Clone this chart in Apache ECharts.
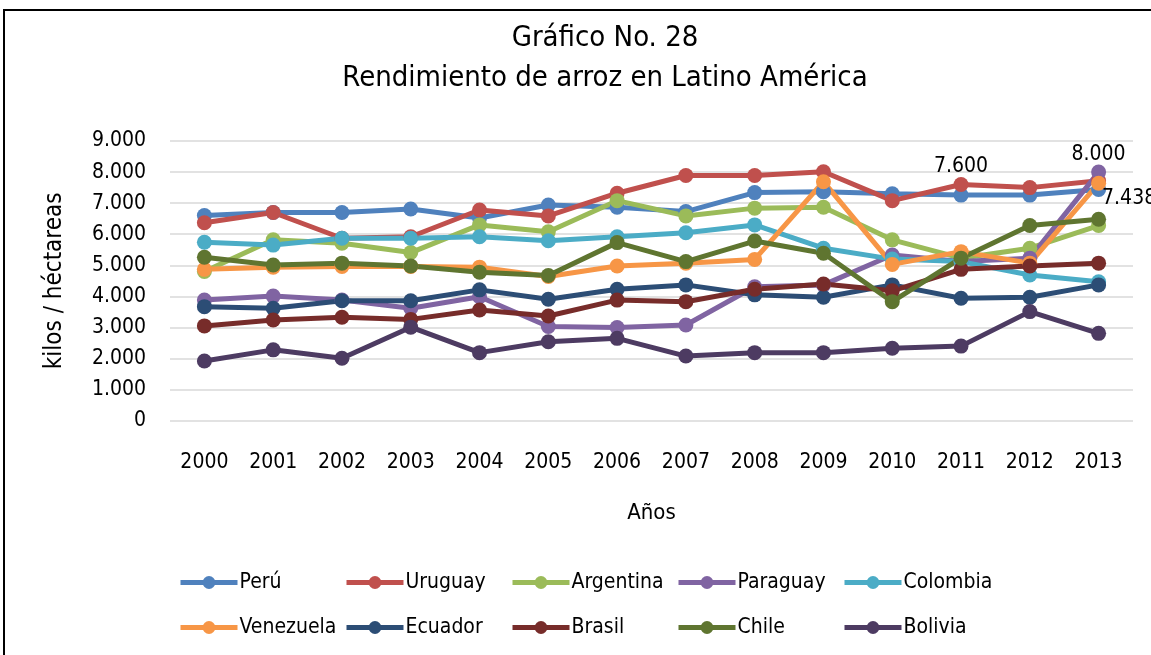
<!DOCTYPE html>
<html>
<head>
<meta charset="utf-8">
<script src="https://cdn.jsdelivr.net/npm/echarts@6/dist/echarts.min.js"></script>
<style>
  html, body { margin: 0; padding: 0; background: #fff; }
  #chart { width: 1151px; height: 655px; }
</style>
</head>
<body>
<div id="chart"></div>
<script>
  // años (categorías)
  var years = ['2000', '2001', '2002', '2003', '2004', '2005', '2006', '2007', '2008', '2009', '2010', '2011', '2012', '2013'];

  // rendimiento kg / ha por país
  var peru      = [6600, 6700, 6700, 6810, 6520, 6940, 6870, 6730, 7340, 7370, 7300, 7260, 7260, 7438];
  var uruguay   = [6370, 6700, 5870, 5920, 6780, 6590, 7320, 7890, 7890, 8010, 7080, 7600, 7500, 7720];
  var argentina = [4800, 5820, 5710, 5410, 6300, 6080, 7080, 6590, 6840, 6870, 5820, 5230, 5550, 6280];
  var paraguay  = [3880, 4010, 3880, 3620, 3990, 3030, 3000, 3080, 4310, 4370, 5330, 5120, 5230, 8000];
  var colombia  = [5740, 5650, 5870, 5870, 5920, 5790, 5920, 6050, 6300, 5550, 5200, 5120, 4690, 4470];
  var venezuela = [4870, 4940, 4960, 4960, 4940, 4640, 4980, 5070, 5190, 7690, 5030, 5440, 5070, 7640];
  var ecuador   = [3670, 3620, 3860, 3860, 4210, 3910, 4230, 4370, 4050, 3970, 4370, 3940, 3970, 4370];
  var brasil    = [3050, 3240, 3330, 3260, 3560, 3370, 3880, 3830, 4230, 4400, 4180, 4870, 4980, 5070];
  var chile     = [5260, 5010, 5070, 4980, 4780, 4670, 5730, 5120, 5780, 5390, 3830, 5230, 6280, 6480];
  var bolivia   = [1920, 2280, 2010, 3010, 2190, 2540, 2650, 2080, 2190, 2190, 2330, 2400, 3510, 2810];

  var yTicks = [0, 1000, 2000, 3000, 4000, 5000, 6000, 7000, 8000, 9000];

  var names  = ['Perú', 'Uruguay', 'Argentina', 'Paraguay', 'Colombia', 'Venezuela', 'Ecuador', 'Brasil', 'Chile', 'Bolivia'];
  var values = [peru, uruguay, argentina, paraguay, colombia, venezuela, ecuador, brasil, chile, bolivia];
  var colors = ['#4f81bd', '#c0504d', '#9bbb59', '#8064a2', '#4bacc6', '#f79646', '#2c4d75', '#772c2a', '#5f7530', '#4d3b62'];

  // puntos con etiqueta de dato
  var labelled = [
    { serie: 'Uruguay', idx: 11, pos: 'top' },
    { serie: 'Paraguay', idx: 13, pos: 'top' },
    { serie: 'Perú', idx: 13, pos: 'right' }
  ];

  var font = "'DejaVu Sans Condensed', sans-serif";

  function fmt(v) {
    return String(Math.round(v)).replace(/\B(?=(\d{3})+(?!\d))/g, '.');
  }

  var chart = echarts.init(document.getElementById('chart'), null, { renderer: 'canvas' });

  var series = names.map(function (n, i) {
    return {
      name: n,
      type: 'line',
      symbol: 'circle',
      symbolSize: 15,
      color: colors[i],
      lineStyle: { width: 5, color: colors[i] },
      itemStyle: { color: colors[i] },
      emphasis: { disabled: true },
      animation: false,
      data: values[i].map(function (v, k) {
        var l = labelled.find(function (p) { return p.serie === n && p.idx === k; });
        if (!l) return v;
        return {
          value: v,
          label: {
            show: true,
            position: l.pos,
            distance: l.pos === 'right' ? -4 : 0,
            offset: l.pos === 'right' ? [0, 9] : [0, 0],
            formatter: function (p) { return fmt(p.value); },
            fontFamily: font,
            fontSize: 21,
            color: '#000'
          }
        };
      })
    };
  });

  // leyenda en rejilla de 2 filas x 5
  var legends = names.map(function (n, i) {
    return {
      data: [n],
      left: 178 + (i % 5) * 166,
      top: i < 5 ? 572 : 617,
      padding: 0,
      itemWidth: 57,
      itemHeight: 16,
      itemGap: 0,
      lineStyle: { width: 5 },
      textStyle: { fontFamily: font, fontSize: 21, color: '#000', padding: [0, 0, 0, -3] }
    };
  });

  var option = {
    backgroundColor: '#fff',
    title: {
      text: 'Gráfico No. 28\nRendimiento de arroz en Latino América',
      left: 600,
      textAlign: 'center',
      top: 13,
      textStyle: { fontFamily: font, fontSize: 29, fontWeight: 'normal', color: '#000', lineHeight: 40 }
    },
    legend: legends,
    grid: { left: 170, right: 18, top: 141, bottom: 234.3 },
    xAxis: {
      type: 'category',
      data: years,
      boundaryGap: true,
      name: 'Años',
      nameLocation: 'middle',
      nameGap: 82,
      nameTextStyle: { fontFamily: font, fontSize: 22, color: '#000' },
      axisLine: { show: false },
      axisTick: { show: false },
      axisLabel: { margin: 31, fontFamily: font, fontSize: 21, color: '#000' }
    },
    yAxis: {
      type: 'value',
      min: yTicks[0],
      max: yTicks[yTicks.length - 1],
      interval: 1000,
      name: 'kilos / héctareas',
      nameLocation: 'middle',
      nameGap: 103,
      nameTextStyle: { fontFamily: font, fontSize: 24, color: '#000' },
      axisLine: { show: false },
      axisTick: { show: false },
      axisLabel: { margin: 24, fontFamily: font, fontSize: 21, color: '#000', formatter: fmt },
      splitLine: { lineStyle: { color: '#d9d9d9', width: 1.5 } }
    },
    graphic: [{
      type: 'rect',
      shape: { x: 4, y: 10, width: 1200, height: 700 },
      style: { fill: null, stroke: '#000', lineWidth: 2 },
      silent: true,
      z: 100
    }],
    series: series
  };

  chart.setOption(option);
</script>
</body>
</html>
